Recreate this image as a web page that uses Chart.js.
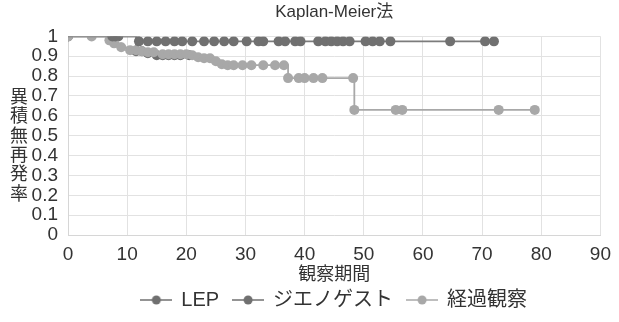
<!DOCTYPE html>
<html lang="ja">
<head>
<meta charset="UTF-8">
<title>Kaplan-Meier法</title>
<script src="https://cdn.jsdelivr.net/npm/chart.js"></script>
<style>
    html, body { margin: 0; padding: 0; background: #ffffff; }
    #wrap { width: 619px; height: 322px; position: relative; }
</style>
</head>
<body>
<div id="wrap"><canvas id="kmChart"></canvas></div>
<script>
// values
const seriesNames = ['LEP', 'ジエノゲスト', '経過観察'];

const lepTime = [0, 7.5, 8, 12, 13.5, 15, 16.5, 18, 19.3, 21, 23, 24.7, 26.4, 28, 30.2, 32.2, 33, 35.6, 36.7, 38.4, 39.3, 42.3, 43.5, 44.5, 45.5, 46.5, 47.6, 50.3, 51.5, 52.7, 54.5, 64.6, 70.5, 72];
const lepSurv = [1, 1, 1, 0.975, 0.975, 0.975, 0.975, 0.975, 0.975, 0.975, 0.975, 0.975, 0.975, 0.975, 0.975, 0.975, 0.975, 0.975, 0.975, 0.975, 0.975, 0.975, 0.975, 0.975, 0.975, 0.975, 0.975, 0.975, 0.975, 0.975, 0.975, 0.975, 0.975, 0.975];

const dienoTime = [0, 8.5, 11.5, 12.5, 13.5, 15, 16, 17, 18, 19, 20.5];
const dienoSurv = [1, 1, 0.925, 0.925, 0.915, 0.905, 0.905, 0.905, 0.905, 0.905, 0.905];

const obsTime = [0, 4, 7, 7.8, 9, 10.5, 11.5, 12.5, 13.5, 14.5, 16, 17, 18, 19, 20, 21, 22, 23, 24, 25, 26, 27, 28, 29.5, 31, 33, 35, 36.5, 37.2, 39, 40, 41.5, 43, 48.2, 48.4, 55.4, 56.5, 72.8, 78.9];
const obsSurv = [1, 1, 0.98, 0.965, 0.945, 0.93, 0.93, 0.925, 0.92, 0.92, 0.91, 0.91, 0.91, 0.91, 0.91, 0.905, 0.895, 0.89, 0.89, 0.875, 0.86, 0.855, 0.855, 0.855, 0.855, 0.855, 0.855, 0.855, 0.79, 0.79, 0.79, 0.79, 0.79, 0.79, 0.63, 0.63, 0.63, 0.63, 0.63];

const yTickLabels = ['0', '0.1', '0.2', '0.3', '0.4', '0.5', '0.6', '0.7', '0.8', '0.9', '1'];
const yAxisTitle = '異積無再発率';

const darkGray = '#707070';
const darkLine = '#7c7c7c';
const lightGray = '#a8a8a8';

const numFont = '"Liberation Sans", Arial, sans-serif';
const jpFont = '"Noto Sans CJK JP", "Liberation Sans", sans-serif';
const mixFont = '"Liberation Sans", "Noto Sans CJK JP", sans-serif';

function toPoints(t, s) {
    return t.map((x, i) => ({ x: x, y: s[i] }));
}

// small line-with-dot symbol for the legend
function legendMark(color) {
    const c = document.createElement('canvas');
    c.width = 32; c.height = 12;
    const g = c.getContext('2d');
    g.strokeStyle = color; g.lineWidth = 1.5;
    g.beginPath(); g.moveTo(0, 6); g.lineTo(32, 6); g.stroke();
    g.fillStyle = color;
    g.beginPath(); g.arc(16, 6, 4.5, 0, Math.PI * 2); g.fill();
    return c;
}

function makeSet(i, t, s, color, lineColor, order) {
    return {
        label: seriesNames[i],
        data: toPoints(t, s),
        stepped: true,
        borderColor: lineColor,
        borderWidth: 1.8,
        backgroundColor: color,
        pointBackgroundColor: color,
        pointBorderColor: color,
        pointRadius: 5,
        pointBorderWidth: 0,
        order: order,
        mark: legendMark(color)
    };
}

// draw the stacked vertical y title
const yTitlePlugin = {
    id: 'yTitle',
    afterDraw(chart) {
        const ctx = chart.ctx;
        ctx.save();
        ctx.font = '18px ' + jpFont;
        ctx.fillStyle = '#333333';
        ctx.textAlign = 'center';
        ctx.textBaseline = 'middle';
        [...yAxisTitle].forEach((ch, i) => {
            ctx.fillText(ch, 19, 96 + i * 19.4);
        });
        ctx.restore();
    }
};

const lepSet = makeSet(0, lepTime, lepSurv, darkGray, darkLine, 0);
lepSet.pointRadius = lepTime.map((t, i) => (i === 0 ? 0 : 5));

const ctx = document.getElementById('kmChart').getContext('2d');
new Chart(ctx, {
    type: 'line',
    data: {
        datasets: [
            lepSet,
            makeSet(1, dienoTime, dienoSurv, darkGray, darkLine, 2),
            makeSet(2, obsTime, obsSurv, lightGray, lightGray, 1)
        ]
    },
    options: {
        responsive: true,
        maintainAspectRatio: false,
        animation: false,
        layout: { padding: { left: 0, right: 3, top: 2, bottom: 2 } },
        plugins: {
            title: {
                display: true,
                text: 'Kaplan-Meier法',
                fullSize: false,
                color: '#333333',
                font: { family: mixFont, size: 17, weight: 'normal' },
                padding: { top: 0, bottom: 14 }
            },
            legend: {
                position: 'bottom',
                fullSize: false,
                labels: {
                    usePointStyle: true,
                    pointStyleWidth: 30,
                    color: '#333333',
                    font: { family: mixFont, size: 20 },
                    padding: 14,
                    sort: (a, b) => a.datasetIndex - b.datasetIndex,
                    generateLabels(chart) {
                        const items = Chart.defaults.plugins.legend.labels.generateLabels(chart);
                        items.forEach(it => {
                            it.pointStyle = chart.data.datasets[it.datasetIndex].mark;
                        });
                        return items;
                    }
                }
            },
            tooltip: { enabled: false }
        },
        scales: {
            x: {
                type: 'linear',
                min: 0,
                max: 90,
                ticks: {
                    stepSize: 10,
                    color: '#333333',
                    padding: 8,
                    maxRotation: 0,
                    font: { family: numFont, size: 19 }
                },
                grid: { color: '#e2e2e2', drawTicks: false },
                border: { color: '#d6d6d6' },
                title: {
                    display: true,
                    text: '観察期間',
                    color: '#333333',
                    font: { family: jpFont, size: 18 },
                    padding: { top: 0, bottom: -8 }
                },
                afterFit(scale) { scale.height = 41; }
            },
            y: {
                min: 0,
                max: 1,
                ticks: {
                    stepSize: 0.1,
                    autoSkip: false,
                    color: '#333333',
                    padding: 10,
                    font: { family: numFont, size: 19 },
                    callback: (v, i) => yTickLabels[i]
                },
                grid: { color: '#e2e2e2', drawTicks: false },
                border: { color: '#d6d6d6' },
                afterFit(scale) { scale.width = 68; }
            }
        }
    },
    plugins: [yTitlePlugin]
});
</script>
</body>
</html>
